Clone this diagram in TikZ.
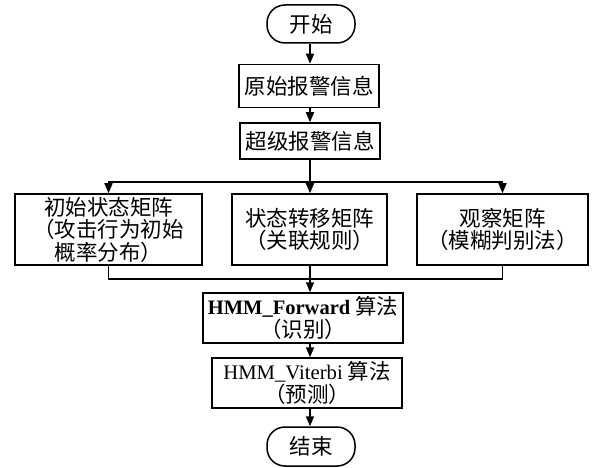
\documentclass[tikz,border=0pt]{standalone}
\usepackage{fontspec}
\setmainfont{Liberation Serif}
\newfontfamily\cjk{Noto Sans CJK SC}
\usetikzlibrary{arrows.meta}
\newcommand{\lat}[1]{{\fontsize{20.5}{23}\selectfont\rmfamily\bfseries #1}}
\newcommand{\latr}[1]{{\fontsize{20.7}{23}\selectfont\rmfamily #1}}
\begin{document}
\begin{tikzpicture}[x=1pt,y=-1pt,
  box/.style={draw,line width=1.5pt,inner sep=0pt,align=center,
    font=\fontsize{21.5}{22.5}\selectfont\cjk},
  term/.style={box,rounded corners=18pt},
  arr/.style={line width=1.5pt,-{Triangle[width=8pt,length=10pt]}},
  ln/.style={line width=1.5pt}]
\useasboundingbox (0,0) rectangle (592,468);
\node[term,minimum width=88pt,minimum height=38pt] (start) at (311,24) {开始};
\node[box,minimum width=140pt,minimum height=43pt] (b1) at (309,86) {原始报警信息};
\node[box,minimum width=140pt,minimum height=36pt] (b2) at (310,141) {超级报警信息};
\node[box,minimum width=187pt,minimum height=71pt] (L) at (108.5,229.5) {初始状态矩阵\\（攻击行为初始\\概率分布）};
\node[box,minimum width=155pt,minimum height=71pt] (M) at (309.5,229.5) {状态转移矩阵\\（关联规则）};
\node[box,minimum width=171pt,minimum height=71pt] (R) at (502.5,229.5) {观察矩阵\\（模糊判别法）};
\node[box,minimum width=200pt,minimum height=50pt] (F) at (303,318) {\lat{HMM\_Forward} 算法\\（识别）};
\node[box,minimum width=190pt,minimum height=50pt] (V) at (307,383) {\latr{HMM\_Viterbi} 算法\\（预测）};
\node[term,minimum width=88pt,minimum height=39pt] (end) at (311,446.5) {结束};
\coordinate (j1) at (310,182);
\coordinate (j2) at (310,279);
\draw[arr] (start.south -| j1) -- (b1.north -| j1);
\draw[arr] (b1.south -| j1) -- (b2.north -| j1);
\draw[ln] (b2.south -| j1) -- (j1);
\draw[arr] (j1) -| (L.north);
\draw[arr] (j1) -| (R.north);
\draw[arr] (j1) -- (M.north -| j1);
\draw[ln] (L.south) |- (j2);
\draw[ln] (R.south) |- (j2);
\draw[arr] (M.south -| j1) -- (F.north -| j1);
\draw[arr] (F.south -| j1) -- (V.north -| j1);
\draw[arr] (V.south -| j1) -- (end.north -| j1);
\end{tikzpicture}
\end{document}
